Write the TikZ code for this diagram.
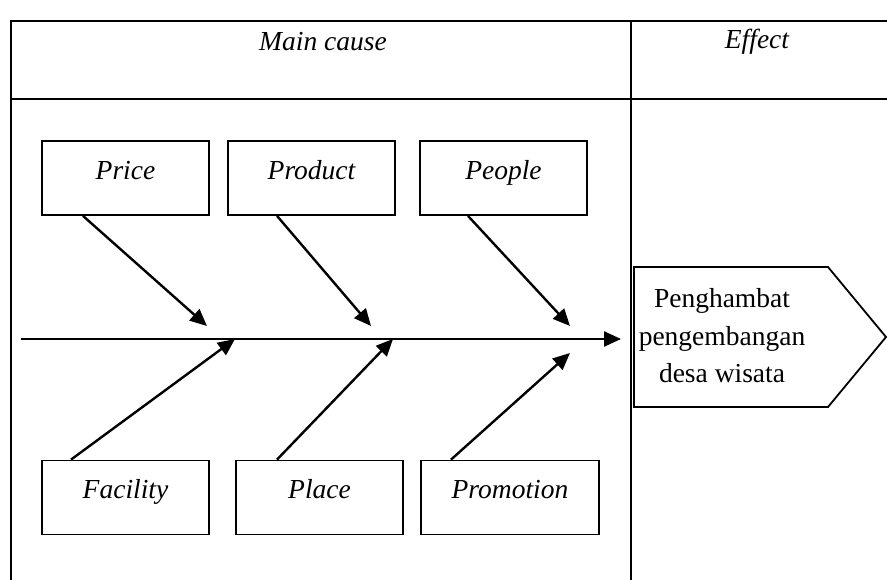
\documentclass[tikz,border=0pt]{standalone}
\usepackage{fontspec}
\setmainfont{Liberation Serif}
\usetikzlibrary{arrows.meta}
\newcommand{\bigsize}{\fontsize{27.5}{37.5}\selectfont}

\begin{document}
\begin{tikzpicture}[x=1pt, y=-1pt,
    cause/.style={draw, line width=1.8pt, minimum width=167pt, inner sep=0pt,
                  text height=38pt, text depth=36pt, font=\bigsize\itshape},
    bone/.style={line width=2.4pt, -{Triangle[length=17pt, width=15pt]}},
    rule/.style={line width=2pt}]
    \useasboundingbox (0,0) rectangle (887,579);

    % table
    \draw [rule] (890,21) -- (11,21) -- (11,600);
    \draw [rule] (11,99) -- (890,99);
    \draw [rule] (630.5,21) -- (630.5,600);
    \node (maincause) at (323,42) [font=\bigsize\itshape] {Main cause};
    \node (effecthead) at (757,42) [font=\bigsize\itshape] {Effect};

    % causes
    \foreach \name/\x/\y/\txt in {price/125.5/178/Price, product/311.5/178/Product,
        people/503.5/178/People, facility/125.5/497.5/Facility, place/319.5/497.5/Place} {
        \node (\name) at (\x,\y) [cause] {\txt};
    }
    \node (promotion) at (510,497.5) [cause, minimum width=178pt] {Promotion};

    % spine
    \coordinate (tail) at (21,339);
    \coordinate (head) at (621,339);
    \draw [bone] (tail) -- (head);

    % bones
    \coordinate (pricetip) at (207,326);
    \coordinate (producttip) at (371,326);
    \coordinate (peopletip) at (570,326);
    \coordinate (facilitytip) at (235,339);
    \coordinate (placetip) at (393,339);
    \coordinate (promotiontip) at (570,353);
    \draw [bone] ([xshift=-42.5pt]price.south) -- (pricetip);
    \draw [bone] ([xshift=-34.5pt]product.south) -- (producttip);
    \draw [bone] ([xshift=-35.5pt]people.south) -- (peopletip);
    \draw [bone] ([xshift=-54.5pt]facility.north) -- (facilitytip);
    \draw [bone] ([xshift=-42.5pt]place.north) -- (placetip);
    \draw [bone] ([xshift=-59pt]promotion.north) -- (promotiontip);

    % effect
    \draw [line width=1.8pt] (634,267) -- (828,267) -- (886,337) -- (828,407) -- (634,407) -- cycle;
    \node (effect) at (722,336) [font=\bigsize, align=center] {Penghambat\\pengembangan\\desa wisata};
\end{tikzpicture}
\end{document}
